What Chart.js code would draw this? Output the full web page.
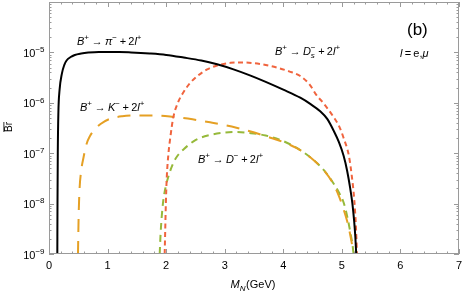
<!DOCTYPE html>
<html><head><meta charset="utf-8">
<script src="https://cdn.jsdelivr.net/npm/chart.js@4/dist/chart.umd.min.js"></script>
<style>html,body{margin:0;padding:0;background:#fff}#wrap{width:463px;height:292px;position:relative}</style>
</head><body><div id="wrap"><canvas id="c" width="463" height="292"></canvas></div>
<script>
// ---- data ----
const piX = [0.142,0.145,0.15,0.16,0.18,0.22,0.26,0.30,0.37,0.44,0.55,0.67,0.85,1.0,1.2,1.4,1.72,2.0,2.3,2.6,2.87,3.15,3.43,3.7,4.0,4.29,4.46,4.63,4.75,4.86,4.95,5.03,5.09,5.14,5.18,5.21,5.23,5.245];
const piY = [1e-9,1e-8,1e-7,6.3e-7,1.78e-6,3.8e-6,5.6e-6,6.9e-6,8.1e-6,8.9e-6,9.5e-6,9.9e-6,1.02e-5,1.02e-5,1.02e-5,1.0e-5,9.5e-6,8.9e-6,7.9e-6,6.9e-6,5.8e-6,4.6e-6,3.5e-6,2.6e-6,1.82e-6,1.26e-6,9.5e-7,6.8e-7,4.8e-7,2.8e-7,1.66e-7,8.9e-8,4.5e-8,2.1e-8,1e-8,4.5e-9,2.2e-9,1e-9];
const dsX = [1.975,1.985,1.995,2.01,2.04,2.07,2.12,2.2,2.29,2.4,2.52,2.7,2.87,3.1,3.31,3.6,3.89,4.1,4.29,4.45,4.57,4.68,4.86,4.96,5.03,5.12,5.17,5.21,5.24,5.258];
const dsY = [1e-9,3.2e-9,1e-8,3.2e-8,1e-7,2e-7,5e-7,1e-6,1.58e-6,2.4e-6,3.3e-6,4.6e-6,5.5e-6,6.2e-6,6.3e-6,5.9e-6,5.0e-6,4.2e-6,3.4e-6,2.3e-6,1.4e-6,1.0e-6,5.2e-7,3.3e-7,2.0e-7,8.9e-8,3.5e-8,1.26e-8,3.5e-9,1e-9];
const kX  = [0.495,0.505,0.52,0.55,0.59,0.64,0.70,0.78,0.88,1.04,1.25,1.5,1.8,2.12,2.45,2.75,3.2,3.72,4.23,4.5,4.7,4.85,4.95,5.02,5.09,5.14,5.175,5.195];
const kY  = [1e-9,5.0e-9,1.78e-8,4.5e-8,8.3e-8,1.51e-7,2.19e-7,2.95e-7,3.8e-7,4.8e-7,5.4e-7,5.6e-7,5.6e-7,5.25e-7,4.7e-7,4.1e-7,3.2e-7,2.14e-7,1.26e-7,7.6e-8,4.5e-8,2.5e-8,1.41e-8,8.3e-9,4.5e-9,2.5e-9,1.5e-9,1e-9];
const dX  = [1.89,1.905,1.925,1.95,1.99,2.04,2.12,2.2,2.3,2.5,2.75,3.0,3.2,3.45,3.7,4.0,4.29,4.5,4.7,4.85,4.95,5.03,5.1,5.15,5.18,5.2];
const dY  = [1e-9,2.5e-9,5.6e-9,1.12e-8,2.1e-8,3.5e-8,6.3e-8,9.1e-8,1.2e-7,1.82e-7,2.3e-7,2.57e-7,2.63e-7,2.5e-7,2.24e-7,1.74e-7,1.15e-7,7.6e-8,4.5e-8,2.6e-8,1.66e-8,1.05e-8,5.0e-9,2.5e-9,1.58e-9,1e-9];
const xTicks = [0,1,2,3,4,5,6,7];
const yExps  = [-9,-8,-7,-6,-5];

const pts = (xs, ys) => xs.map((x, i) => ({x: x, y: ys[i]}));
const FONT = '"Liberation Sans", Arial, sans-serif';
const TS = '\u2009';

function richWidth(ctx, segs, size) {
  let w = 0;
  for (const s of segs) {
    if (s.t !== undefined) { ctx.font = (s.it ? 'italic ' : '') + size + 'px ' + FONT; w += ctx.measureText(s.t).width; }
    else {
      ctx.font = (s.it ? 'italic ' : '') + Math.round(size * 0.7) + 'px ' + FONT;
      w += Math.max(ctx.measureText(s.sup || '').width, ctx.measureText(s.sub || '').width) + 0.5;
    }
  }
  return w;
}
function drawRich(ctx, x, y, segs, size, align) {
  const w = richWidth(ctx, segs, size);
  let cx = align === 'center' ? x - w / 2 : (align === 'right' ? x - w : x);
  ctx.textBaseline = 'alphabetic'; ctx.textAlign = 'left'; ctx.fillStyle = '#000';
  for (const s of segs) {
    if (s.t !== undefined) {
      ctx.font = (s.it ? 'italic ' : '') + size + 'px ' + FONT;
      ctx.fillText(s.t, cx, y); cx += ctx.measureText(s.t).width;
    } else {
      const ss = Math.round(size * 0.7);
      ctx.font = (s.it ? 'italic ' : '') + ss + 'px ' + FONT;
      let ww = 0;
      if (s.sup) { ctx.fillText(s.sup, cx, y - size * 0.42); ww = Math.max(ww, ctx.measureText(s.sup).width); }
      if (s.sub) { ctx.fillText(s.sub, cx, y + size * 0.25); ww = Math.max(ww, ctx.measureText(s.sub).width); }
      cx += ww + 0.5;
    }
  }
}
function reaction(prod, extra) {
  const segs = [{t: 'B', it: true}, {sup: '+'}, {t: TS + '\u2192' + TS}, {t: prod, it: true}, extra,
                {t: TS + '+' + TS + '2'}, {t: 'l', it: true}, {sup: '+'}];
  return segs;
}

const frame = {
  id: 'frame',
  afterDraw(chart) {
    const ctx = chart.ctx, xs = chart.scales.x, ys = chart.scales.y, a = chart.chartArea;
    ctx.save();
    ctx.strokeStyle = '#9a9a9a'; ctx.lineWidth = 1;
    ctx.strokeRect(Math.round(a.left) + 0.5, Math.round(a.top) + 0.5, Math.round(a.right - a.left) - 1, Math.round(a.bottom - a.top) - 1);
    ctx.beginPath();
    for (let i = 0; i <= 35; i++) {
      const v = i * 0.2, px = Math.round(xs.getPixelForValue(v)) + 0.5;
      const len = (i % 5 === 0) ? 5 : 2.5;
      ctx.moveTo(px, a.bottom); ctx.lineTo(px, a.bottom - len);
      ctx.moveTo(px, a.top); ctx.lineTo(px, a.top + len);
    }
    for (const e of yExps.concat([-4])) {
      for (let k = 1; k <= 9; k++) {
        const v = k * Math.pow(10, e);
        if (v > 1.0001e-4) continue;
        const py = Math.round(ys.getPixelForValue(v)) + 0.5;
        const len = k === 1 ? 5 : 2.5;
        ctx.moveTo(a.left, py); ctx.lineTo(a.left + len, py);
        ctx.moveTo(a.right, py); ctx.lineTo(a.right - len, py);
      }
    }
    ctx.stroke();
    ctx.fillStyle = '#000'; ctx.font = '11px ' + FONT; ctx.textAlign = 'center'; ctx.textBaseline = 'alphabetic';
    for (const t of xTicks) ctx.fillText(String(t), xs.getPixelForValue(t), 268.5);
    for (const e of yExps) {
      const py = ys.getPixelForValue(Math.pow(10, e));
      drawRich(ctx, 45, py + 4.5, [{t: '10'}, {sup: '\u2212' + (-e)}], 11, 'right');
    }
    drawRich(ctx, 253, 288, [{t: 'M', it: true}, {sub: 'N', it: true}, {t: '(GeV)'}], 11, 'center');
    ctx.save();
    ctx.translate(12, 127); ctx.rotate(-Math.PI / 2);
    ctx.font = '10px ' + FONT; ctx.textAlign = 'center'; ctx.fillText('Br', 0, 0);
    const bw = ctx.measureText('Br').width;
    ctx.fillRect(-bw / 2, -8.5, bw, 0.8);
    ctx.restore();
    drawRich(ctx, 77, 45, reaction('\u03C0', {sup: '\u2212'}), 11, 'left');
    drawRich(ctx, 80, 111, reaction('K', {sup: '\u2212'}), 11, 'left');
    drawRich(ctx, 198, 163, reaction('D', {sup: '\u2212'}), 11, 'left');
    drawRich(ctx, 275, 55, reaction('D', {sup: '\u2212', sub: 's', it: true}), 11, 'left');
    ctx.font = '17px ' + FONT; ctx.textAlign = 'left'; ctx.fillText('(b)', 407, 35);
    drawRich(ctx, 400, 57, [{t: 'l', it: true}, {t: TS + '=' + TS + 'e,'}, {t: '\u03BC', it: true}], 11, 'left');
    ctx.restore();
  }
};

new Chart(document.getElementById('c'), {
  type: 'line',
  data: {
    datasets: [
      {label: 'pi', data: pts(piX, piY), borderColor: '#000000', borderWidth: 2},
      {label: 'Ds', data: pts(dsX, dsY), borderColor: '#f0643e', borderWidth: 2, borderDash: [5, 3.5]},
      {label: 'K', data: pts(kX, kY), borderColor: '#e5a024', borderWidth: 2, borderDash: [13, 9]},
      {label: 'D', data: pts(dX, dY), borderColor: '#96b93a', borderWidth: 2, borderDash: [7, 5]}
    ]
  },
  options: {
    responsive: false, animation: false, devicePixelRatio: 1,
    layout: {padding: {left: 49, right: 4, top: 2, bottom: 38}},
    elements: {point: {radius: 0}, line: {cubicInterpolationMode: 'monotone', fill: false}},
    plugins: {legend: {display: false}, tooltip: {enabled: false}},
    scales: {
      x: {type: 'linear', min: 0, max: 7, display: false},
      y: {type: 'logarithmic', min: 1e-9, max: 1e-4, display: false}
    }
  },
  plugins: [frame]
});
</script></body></html>
